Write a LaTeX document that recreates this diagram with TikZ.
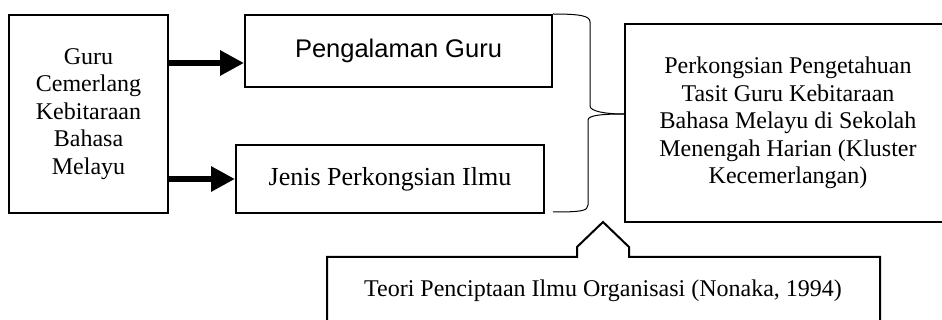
\documentclass[tikz,border=0pt]{standalone}
\usepackage{fontspec}
\setmainfont{Liberation Serif}
\newfontfamily\pgsans{Liberation Sans}
\usetikzlibrary{arrows.meta,calc}

\tikzset{
  box/.style={draw, line width=2pt, inner sep=0pt, align=center,
    font=\fontsize{24}{27.6}\selectfont},
  bigarrow/.style={line width=6pt, -{Triangle[length=24pt,width=24pt]}},
  bracepath/.style={line width=1pt},
}

\begin{document}
\begin{tikzpicture}[x=1pt, y=-1pt, line join=miter]

% Fix the frame of the picture
\useasboundingbox (0,0) rectangle (942,320);
\clip (0,0) rectangle (942,320);

% Box on the left
\node[box, minimum width=159pt, minimum height=198pt] (gcb) at (88.5,114)
  {Guru\\Cemerlang\\Kebitaraan\\Bahasa\\Melayu};

% The two middle boxes
\node[box, minimum width=307pt, minimum height=72pt,
  font=\pgsans\fontsize{25.5}{28}\selectfont] (pg) at (398.5,51) {Pengalaman Guru};
\node[box, minimum width=308pt, minimum height=68pt,
  font=\fontsize{26}{28}\selectfont] (jpi) at (390,179) {Jenis Perkongsian Ilmu};

% Box on the right (runs past the edge)
\node[box, minimum width=326pt, minimum height=198pt] (pp) at (788,123)
  {Perkongsian Pengetahuan\\Tasit Guru Kebitaraan\\Bahasa Melayu di Sekolah\\Menengah Harian (Kluster\\Kecemerlangan)};

% Theory text at the bottom
\node[inner sep=0pt, font=\fontsize{24}{27.6}\selectfont] (teori) at (603,291)
  {Teori Penciptaan Ilmu Organisasi (Nonaka, 1994)};

% Arrows
\coordinate (a1) at ([yshift=-12pt]pg.west);
\draw[bigarrow] (gcb.east |- a1) -- (a1);
\draw[bigarrow] (gcb.east |- jpi.west) -- (jpi.west);

% Brace joining the middle boxes
\coordinate (bt) at (pp.west |- 0,114);
\coordinate (bb) at (pg.east |- 0,212);
\draw[bracepath] (pg.north east) .. controls +(28,0) and +(0,-6) .. ++(37,8)
  -- ++(0,84) .. controls +(0,5) and +(-20,0) .. (bt);
\draw[bracepath] (bt) .. controls +(-20,0) and +(0,-5) .. ++(-36,6)
  -- ++(0,85) .. controls +(0,6) and +(28,0) .. (bb);

% Callout round the theory text, pointing up at the brace
\coordinate (ct) at (603,222);
\draw[line width=2pt] (327,330) -- (327,257) -- (577,257) -- (577,247)
  -- (ct) -- (629,247) -- (629,257) -- (880,257) -- (880,330);

\end{tikzpicture}
\end{document}
